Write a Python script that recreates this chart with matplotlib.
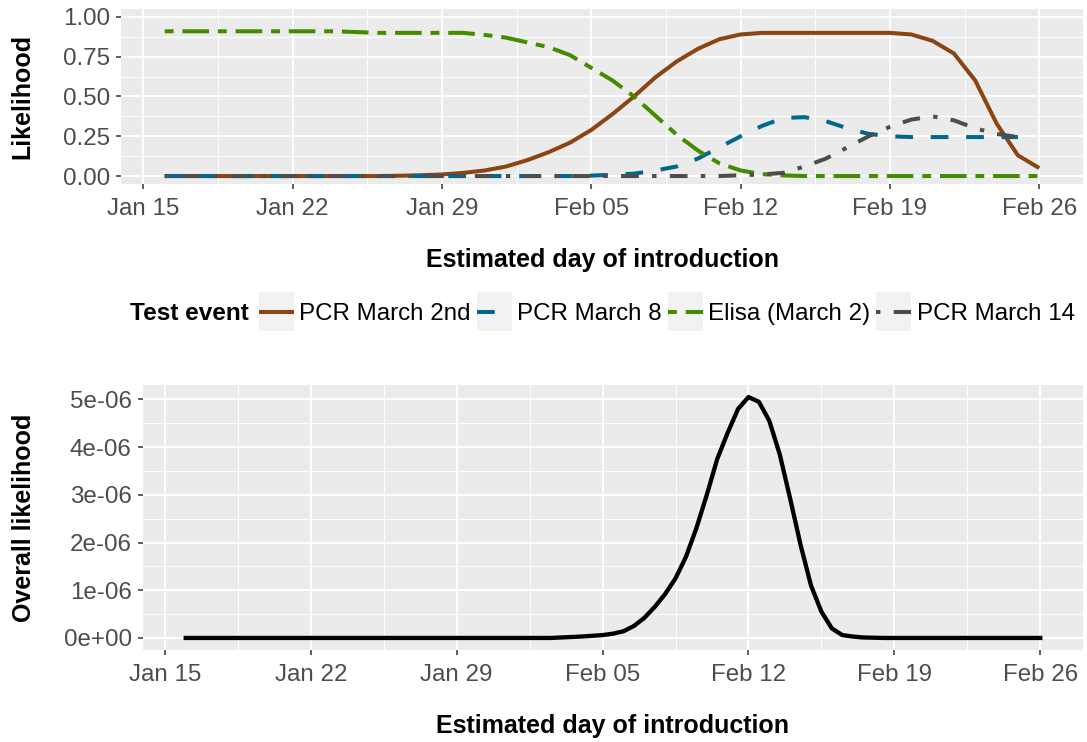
import matplotlib
matplotlib.use('Agg')
import matplotlib.pyplot as plt
import matplotlib.dates as mdates
from matplotlib.ticker import MultipleLocator, FuncFormatter
from matplotlib.lines import Line2D
from matplotlib.patches import Rectangle
from matplotlib.legend_handler import HandlerLine2D
import numpy as np
import datetime as dt

plt.rcParams['font.family'] = ['Liberation Sans', 'DejaVu Sans']

# ---- data (one value per day, Jan 16 .. Feb 26) ----
start_day = dt.datetime(2020, 1, 16)
days = [start_day + dt.timedelta(days=i) for i in range(42)]

series_names = ["PCR March 2nd", "PCR March 8", "Elisa (March 2)", "PCR March 14"]

pcr_march2 = [0] * 11 + [0.002, 0.005, 0.01, 0.02, 0.035, 0.06, 0.10, 0.15, 0.21, 0.29,
                         0.39, 0.50, 0.62, 0.72, 0.80, 0.86, 0.89, 0.90, 0.90, 0.90,
                         0.90, 0.90, 0.90, 0.90, 0.89, 0.85, 0.77, 0.60, 0.33, 0.13, 0.05]
pcr_march8 = [0] * 20 + [0.003, 0.008, 0.015, 0.035, 0.06, 0.11, 0.18, 0.25, 0.315, 0.365,
                         0.37, 0.345, 0.30, 0.265, 0.25, 0.245, 0.245, 0.245, 0.245, 0.245,
                         0.245, np.nan]
elisa_march2 = [0.91] * 9 + [0.905, 0.90, 0.90, 0.90, 0.90, 0.90, 0.887, 0.87, 0.84, 0.81,
                             0.76, 0.68, 0.60, 0.50, 0.38, 0.26, 0.16, 0.08, 0.035, 0.012,
                             0.004] + [0] * 12
pcr_march14 = [0] * 27 + [0.005, 0.01, 0.02, 0.06, 0.11, 0.18, 0.25, 0.31, 0.355, 0.375,
                          0.35, 0.30, 0.265, 0.245, np.nan]

# overall likelihood, read every half day (Jan 16 .. Feb 26)
half_days = [start_day + dt.timedelta(days=0.5 * i) for i in range(83)]
overall = [0] * 36 + [0.01e-6, 0.02e-6, 0.03e-6, 0.045e-6, 0.06e-6, 0.09e-6, 0.14e-6, 0.25e-6,
                      0.42e-6, 0.65e-6, 0.92e-6, 1.25e-6, 1.70e-6, 2.3e-6, 3.0e-6, 3.75e-6,
                      4.3e-6, 4.8e-6, 5.05e-6, 4.95e-6, 4.55e-6, 3.85e-6, 2.92e-6, 1.95e-6,
                      1.1e-6, 0.55e-6, 0.2e-6, 0.06e-6, 0.03e-6, 0.01e-6, 0.005e-6] + [0] * 16

colors = ["#8B4513", "#00688B", "#458B00", "#4D4D4D"]
dash_styles = [None, (4.4, 4.4), (2.2, 2.2, 6.6, 2.2), (1.1, 3.3, 4.4, 3.3)]

W, H = 1087, 742
fig = plt.figure(figsize=(W / 100, H / 100), dpi=100)
TICK_FS = 17.4
TITLE_FS = 18

def px_axes(left, top, right, bottom):
    return fig.add_axes([left / W, 1 - bottom / H, (right - left) / W, (bottom - top) / H])

def gg_style(ax):
    ax.set_facecolor("#EBEBEB")
    for s in ax.spines.values():
        s.set_visible(False)
    ax.grid(which='major', color='white', linewidth=1.4)
    ax.grid(which='minor', color='white', linewidth=0.7)
    ax.set_axisbelow(True)
    ax.tick_params(which='major', length=3.6, width=1.1, color='#333333',
                   labelsize=TICK_FS, labelcolor='#4D4D4D', pad=4.5)
    ax.tick_params(axis='x', which='major', pad=6.5)
    ax.tick_params(which='minor', length=0)
    ticks = [dt.datetime(2020, 1, 15) + dt.timedelta(days=7 * k) for k in range(7)]
    ax.set_xticks(ticks)
    ax.set_xticks([t + dt.timedelta(days=3.5) for t in ticks[:-1]], minor=True)
    ax.xaxis.set_major_formatter(mdates.DateFormatter('%b %d'))
    pad = dt.timedelta(days=41 * 0.05)
    ax.set_xlim(days[0] - pad, days[-1] + pad)

# ---- top panel ----
ax1 = px_axes(121, 9, 1083, 184)
gg_style(ax1)
for name, vals, c, d in zip(series_names, [pcr_march2, pcr_march8, elisa_march2, pcr_march14],
                            colors, dash_styles):
    ln, = ax1.plot(days, vals, color=c, linewidth=2.9, label=name, solid_capstyle='butt')
    if d is not None:
        ln.set_dashes(d)
        ln.set_dash_capstyle('butt')
ax1.set_ylim(-0.05, 1.05)
ax1.yaxis.set_major_locator(MultipleLocator(0.25))
ax1.yaxis.set_minor_locator(MultipleLocator(0.125))
ax1.yaxis.set_major_formatter(FuncFormatter(lambda v, p: f"{v:.2f}"))
ax1.set_ylabel("Likelihood", fontsize=TITLE_FS, fontweight='bold', labelpad=20)
ax1.set_xlabel("Estimated day of introduction", fontsize=TITLE_FS, fontweight='bold', labelpad=20)

# ---- legend (ggplot style keys with grey background) ----
class KeyHandler(HandlerLine2D):
    def create_artists(self, legend, orig_handle, xdescent, ydescent, width, height,
                       fontsize, trans):
        artists = super().create_artists(legend, orig_handle, xdescent, ydescent,
                                         width, height, fontsize, trans)
        extra = 0.45 * fontsize
        bg = Rectangle((-xdescent, -ydescent - extra), width, height + 2 * extra,
                       facecolor='#F2F2F2', edgecolor='none', transform=trans, zorder=0)
        return [bg] + list(artists)

fig.text(130 / W, 1 - 314 / H, "Test event", fontsize=17.6, fontweight='bold',
         ha='left', va='center')
handles = []
for name, c, d in zip(series_names, colors, dash_styles):
    h = Line2D([0], [0], color=c, linewidth=2.9, solid_capstyle='butt')
    if d is not None:
        h.set_dashes(d)
    handles.append(h)
fig.legend(handles, series_names, loc='center left', bbox_to_anchor=(259 / W, 1 - 314 / H),
           ncol=4, frameon=False, fontsize=17.4, handlelength=1.45, handletextpad=0.22,
           columnspacing=0.25, borderaxespad=0, borderpad=0,
           handler_map={Line2D: KeyHandler()})

# ---- bottom panel ----
ax2 = px_axes(143, 385, 1083, 650)
gg_style(ax2)
ax2.plot(half_days, overall, color='black', linewidth=3.1)
ymax = max(overall)
ax2.set_ylim(-0.05 * ymax, 1.05 * ymax)
ax2.yaxis.set_major_locator(MultipleLocator(1e-6))
ax2.yaxis.set_minor_locator(MultipleLocator(0.5e-6))
ax2.yaxis.set_major_formatter(FuncFormatter(lambda v, p: f"{v:.0e}"))
ax2.set_ylabel("Overall likelihood", fontsize=TITLE_FS, fontweight='bold', labelpad=20)
ax2.set_xlabel("Estimated day of introduction", fontsize=TITLE_FS, fontweight='bold', labelpad=20)

fig.savefig("out.png", dpi=100)
